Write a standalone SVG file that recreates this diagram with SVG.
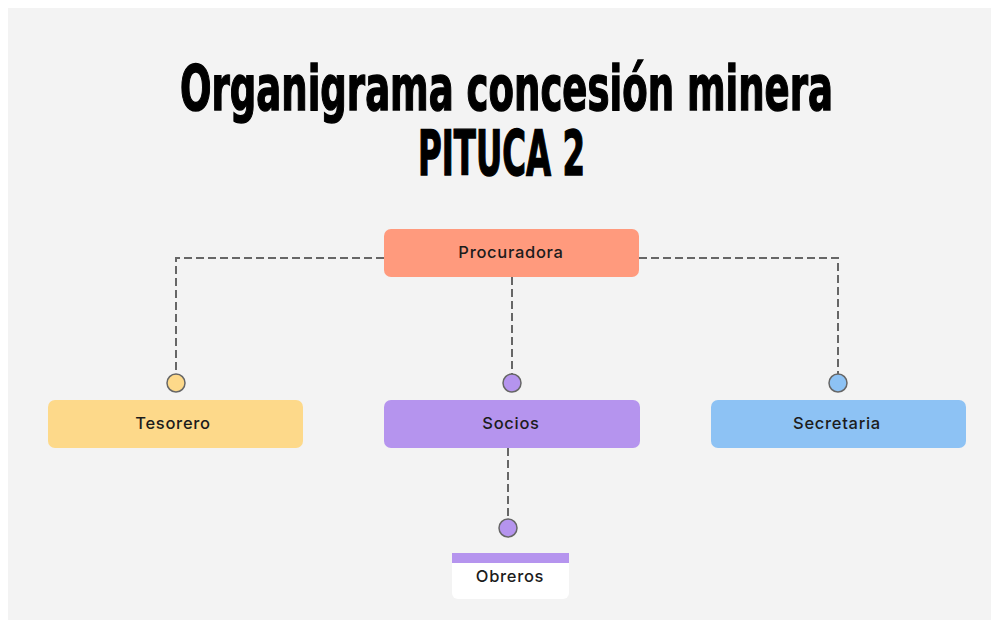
<svg xmlns="http://www.w3.org/2000/svg" width="991" height="620" viewBox="0 0 991 620">
  <style>
    .title { font-family: "Liberation Sans Narrow", "DejaVu Sans Condensed", "Liberation Sans", sans-serif; font-weight: bold; font-size: 62px; fill: #000; stroke: #000; stroke-width: 1.4px; }
    .label { font-family: Inter, "Noto Sans", "Liberation Sans", sans-serif; font-weight: 500; font-size: 16.5px; letter-spacing: 0.7px; fill: #1c1c1c; text-anchor: middle; }
    .conn { fill: none; stroke: #666666; stroke-width: 2; stroke-dasharray: 8 4; }
    .dot { stroke: #666666; stroke-width: 1.5; }
  </style>
  <rect x="0" y="0" width="991" height="620" fill="#ffffff"/>
  <rect x="8" y="8" width="983" height="612" fill="#f3f3f3"/>

  <g id="title">
    <text class="title" x="180" y="110" textLength="653" lengthAdjust="spacingAndGlyphs">Organigrama concesión minera</text>
    <text class="title" x="418" y="175" textLength="167" lengthAdjust="spacingAndGlyphs">PITUCA 2</text>
  </g>

  <g id="connectors">
    <path class="conn" d="M384 258 H176 V374"/>
    <path class="conn" d="M512 277 V374"/>
    <path class="conn" d="M639 258 H838 V374"/>
    <path class="conn" d="M508 448 V519"/>
    <circle class="dot" cx="176" cy="383" r="9" fill="#fdd98a"/>
    <circle class="dot" cx="512" cy="383" r="9" fill="#b594ee"/>
    <circle class="dot" cx="838" cy="383" r="9" fill="#8dc2f4"/>
    <circle class="dot" cx="508" cy="528" r="9" fill="#b594ee"/>
  </g>

  <g id="procuradora">
    <rect x="384" y="229" width="255" height="48" rx="7" fill="#ff9a7d"/>
    <text class="label" x="511" y="258">Procuradora</text>
  </g>
  <g id="tesorero">
    <rect x="48" y="400" width="255" height="48" rx="7" fill="#fdd98a"/>
    <text class="label" x="173" y="429">Tesorero</text>
  </g>
  <g id="socios">
    <rect x="384" y="400" width="256" height="48" rx="7" fill="#b594ee"/>
    <text class="label" x="511" y="429">Socios</text>
  </g>
  <g id="secretaria">
    <rect x="711" y="400" width="255" height="48" rx="7" fill="#8dc2f4"/>
    <text class="label" x="837" y="429">Secretaria</text>
  </g>
  <g id="obreros">
    <rect x="452" y="553" width="117" height="46" rx="6" fill="#ffffff"/>
    <rect x="452" y="553" width="117" height="10" fill="#b594ee"/>
    <text class="label" x="510" y="582">Obreros</text>
  </g>
</svg>
